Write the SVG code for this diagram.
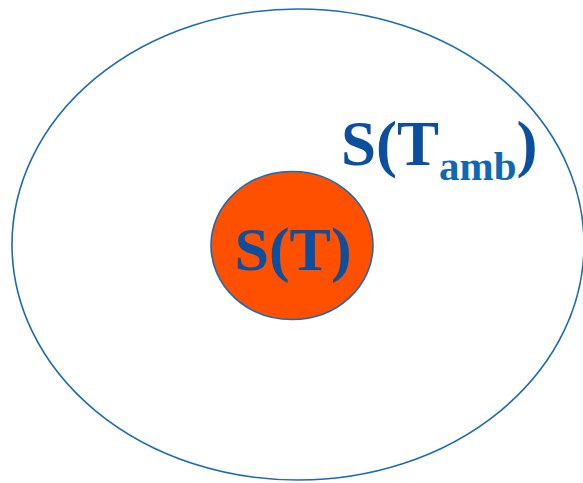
<svg xmlns="http://www.w3.org/2000/svg" width="583" height="483" viewBox="0 0 583 483">
<style>
.lbl{font-family:"Liberation Serif","Times New Roman",serif;font-weight:bold;fill:#0B4F9E}
.sub{fill:#1168B2}
</style>
<rect width="583" height="483" fill="#fff"/>
<g id="ambient">
<ellipse cx="298" cy="244.5" rx="286" ry="235.5" fill="none" stroke="#1A6BB3" stroke-width="1.6"/>
<text class="lbl" x="341" y="165" font-size="63">S(T<tspan class="sub" font-size="41" y="180">amb</tspan><tspan y="165" font-size="63">)</tspan></text>
</g>
<g id="system">
<ellipse cx="292" cy="245.5" rx="81" ry="74" fill="#FF5000" stroke="#1A6BB3" stroke-width="1.6"/>
<text class="lbl" x="293" y="270" font-size="62" text-anchor="middle">S(T)</text>
</g>
<g id="connectors"/>
</svg>
